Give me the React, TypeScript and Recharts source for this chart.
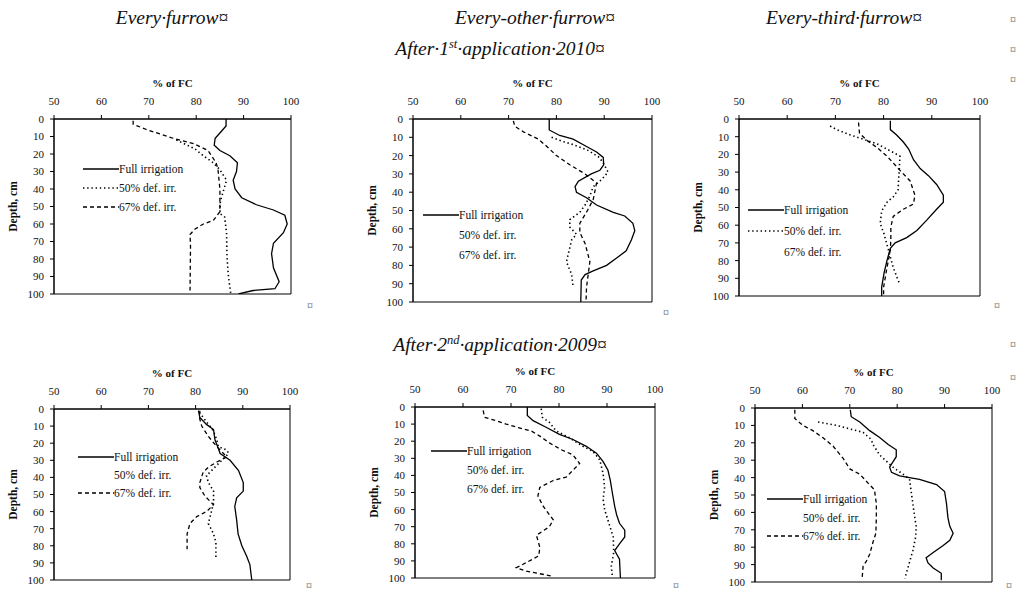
import React from "react";
import { LineChart, Line, XAxis, YAxis, ReferenceArea, Legend, Label } from "recharts";

const SERIF = "'Liberation Serif', serif";

const pctTicks = [50, 60, 70, 80, 90, 100];
const depthTicks = [0, 10, 20, 30, 40, 50, 60, 70, 80, 90, 100];
const seriesNames = ["Full irrigation", "50% def. irr.", "67% def. irr."];
const columnTitles = ["Every·furrow¤", "Every-other·furrow¤", "Every-third·furrow¤"];

// [depth cm, % of FC]
// After 1st application 2010
const p1Full: [number, number][] = [[0, 86.3], [4, 86.3], [8, 85], [11, 84], [15, 83.8], [18, 85], [21, 87.1], [25, 88.7], [30, 88.5], [35, 87.8], [40, 88.2], [45, 89.6], [49, 92.7], [52, 96.3], [55, 98.7], [60, 99.2], [65, 98.4], [71, 96.3], [77, 95.9], [85, 96.3], [93, 97.5], [97, 96.6], [98, 92], [100, 88.9]];
const p1Half: [number, number][] = [[12, 75.8], [17, 79.7], [21, 81.5], [25, 83.6], [29, 85], [35, 86.4], [47, 85.1], [54, 85], [56, 86], [65, 86.4], [79, 86.5], [90, 86.8], [100, 87.3]];
const p1Third: [number, number][] = [[1, 66.7], [3, 66.7], [6, 69.5], [11, 75.1], [14, 79.4], [18, 82.5], [25, 84.2], [29, 84.6], [40, 85], [53, 85], [58, 83.6], [60, 81.5], [63, 79.7], [66, 78.7], [73, 78.8], [98, 78.7]];

const p2Full: [number, number][] = [[0, 78.5], [6, 78.5], [9, 80.7], [11, 83.5], [15, 86.3], [18, 88.4], [21, 89.8], [25, 89.9], [28, 89.1], [30, 87.3], [34, 84.6], [37, 83.9], [40, 84.2], [43, 86.3], [47, 88.4], [51, 91.9], [53, 94.3], [57, 96], [61, 96.4], [66, 95.7], [72, 94.6], [76, 92.6], [80, 90.5], [83, 87.7], [85, 86], [88, 85.2], [100, 85.1]];
const p2Half: [number, number][] = [[10, 79], [12, 81], [14, 83.5], [17, 86.5], [21, 89], [25, 90], [29, 90.8], [33, 89.5], [37, 87.7], [42, 87], [47, 86], [51, 84.9], [55, 82.8], [59, 82.8], [63, 84.2], [66, 83.2], [78, 82.1], [85, 83.2], [92, 83.5]];
const p2Third: [number, number][] = [[1, 71], [4, 71.3], [7, 73.1], [11, 76.2], [15, 78], [20, 80], [25, 82.8], [30, 86], [35, 88.4], [44, 87.7], [50, 86.5], [57, 84.9], [62, 84.9], [68, 86], [74, 86.6], [78, 87], [86, 86.6], [92, 86.3], [100, 86.2]];

const p3Full: [number, number][] = [[1, 81.4], [6, 81.4], [9, 82.7], [13, 84.1], [17, 85.2], [23, 86.2], [28, 87.6], [32, 89.3], [37, 91], [43, 92.4], [47, 92.4], [51, 91], [57, 89], [63, 86.9], [67, 84.8], [70, 82.4], [73, 81.4], [80, 80.7], [87, 80.1], [95, 79.6], [100, 79.6]];
const p3Half: [number, number][] = [[4, 68.9], [6, 70.3], [9, 73.1], [14, 78.6], [17, 80.7], [21, 83.4], [40, 83], [44, 82], [47, 80.7], [52, 79.6], [59, 79.3], [65, 80.1], [71, 80.7], [84, 82], [93, 83.3]];
const p3Third: [number, number][] = [[2, 74.8], [8, 75], [12, 76.5], [16, 78.6], [21, 80.7], [29, 83.4], [35, 85.5], [43, 86.5], [48, 86.2], [51, 84.1], [55, 82], [61, 81.5], [68, 81.5], [74, 81.4], [84, 80.7], [95, 80], [100, 80]];

// After 2nd application 2009
const p4Full: [number, number][] = [[1, 80.6], [5, 80.9], [9, 82.3], [12, 83.8], [18, 84.1], [23, 84.8], [26, 85.2], [30, 87.3], [36, 89.1], [43, 90.1], [48, 90.1], [52, 88.7], [57, 88.3], [65, 88.7], [73, 89], [80, 89.8], [86, 90.8], [91, 91.5], [100, 91.9]];
const p4Half: [number, number][] = [[2, 80.8], [10, 83], [13, 83.8], [18, 84.5], [22, 84.8], [24, 86.6], [26, 87], [39, 82.3], [43, 82.7], [48, 83.8], [55, 83.8], [67, 82.7], [73, 83.8], [78, 84.3], [88, 84.3]];
const p4Third: [number, number][] = [[1, 80.9], [5, 80.8], [10, 81.3], [16, 82.7], [22, 84.5], [28, 86.6], [31, 84.5], [34, 82.7], [37, 81.6], [43, 80.9], [46, 80.9], [51, 82], [56, 83.8], [60, 82.3], [63, 80.2], [67, 78.8], [73, 78.2], [82, 78.2]];

const p5Full: [number, number][] = [[0, 73.4], [5, 73.4], [8, 74.6], [12, 77.4], [16, 80.1], [19, 82.9], [23, 85.7], [27, 87.8], [32, 89.2], [37, 90.2], [43, 90.7], [50, 91.1], [58, 91.6], [63, 92], [68, 92.6], [72, 93.7], [76, 93.7], [80, 92.6], [84, 91.6], [89, 92.6], [100, 92.8]];
const p5Half: [number, number][] = [[1, 76.3], [6, 76.5], [9, 78], [14, 79.4], [18, 82.2], [23, 85], [26, 87.1], [31, 88.5], [39, 89.2], [47, 89.5], [54, 89.2], [60, 89.5], [68, 90.4], [76, 91.3], [85, 91.4], [93, 90.9], [99, 91.1]];
const p5Third: [number, number][] = [[2, 64.2], [6, 64.5], [8, 66.9], [10, 69], [12, 71.5], [14, 74.2], [17, 76], [21, 78], [25, 80.5], [28, 82.9], [33, 84.3], [37, 82.9], [41, 81.5], [43, 78.8], [47, 76], [52, 75.6], [58, 76.7], [63, 78], [66, 78.8], [70, 78], [75, 75.3], [82, 76], [87, 75.8], [91, 73.2], [94, 71.1], [96, 73.2], [99, 78.8]];

const p6Full: [number, number][] = [[1, 70.1], [5, 70.3], [8, 72.1], [13, 74.2], [17, 76.3], [21, 78.1], [24, 79.8], [28, 79.8], [31, 79.1], [34, 78.4], [37, 78.8], [39, 80.5], [41, 84.7], [44, 88.3], [48, 90], [55, 90.4], [63, 90.7], [68, 91.1], [72, 91.8], [76, 91.1], [79, 89.7], [83, 87.6], [86, 86.1], [89, 86.5], [92, 87.6], [95, 89.3], [99, 89.3]];
const p6Half: [number, number][] = [[8, 63.3], [10, 67.2], [13, 71.4], [14, 72.8], [18, 74.5], [21, 74.9], [27, 76.3], [34, 79.1], [38, 81.2], [41, 82.6], [49, 83], [59, 83.5], [68, 84], [74, 83.9], [82, 83.3], [98, 81.6]];
const p6Third: [number, number][] = [[1, 58.4], [6, 58.4], [10, 60.1], [13, 62.2], [17, 64.3], [22, 66.5], [29, 68.6], [35, 70], [38, 72.1], [43, 73.8], [47, 75.2], [55, 75.6], [63, 75.6], [72, 75.5], [77, 74.9], [84, 74.2], [88, 73.5], [91, 72.8], [98, 72.6]];

type Pair = [number, number];
type Style = "solid" | "dotted" | "dashed" | null;

const STYLES = {
  solid: { dash: undefined, width: 1.3 },
  dotted: { dash: "1.4 2.8", width: 1.6 },
  dashed: { dash: "4 3", width: 1.3 },
};

const toRows = (pairs: Pair[]) => pairs.map(([depth, pct]) => ({ depth, pct }));

const XH = 46; // top axis band height
const YW = 50; // left axis band width
const MR = 14; // room right of the plot for the last tick label
const MB = 8;

const panels = [
  { left: 54, top: 119, w: 237, h: 175, series: [p1Full, p1Half, p1Third], lg: { x: 79, y: 86, gap: 19, samples: ["solid", "dotted", "dashed"] as Style[] }, mark: [311, 306] },
  { left: 413, top: 119, w: 239, h: 183, series: [p2Full, p2Half, p2Third], lg: { x: 60, y: 132, gap: 20, samples: ["solid", null, null] as Style[] }, mark: [667, 313] },
  { left: 739, top: 119, w: 241, h: 177, series: [p3Full, p3Half, p3Third], lg: { x: 59, y: 126, gap: 21, samples: ["solid", "dotted", null] as Style[] }, mark: [998, 306] },
  { left: 54, top: 409, w: 236, h: 171, series: [p4Full, p4Half, p4Third], lg: { x: 74, y: 85, gap: 18, samples: ["solid", null, "dashed"] as Style[] }, mark: [310, 586] },
  { left: 415, top: 407, w: 240, h: 171, series: [p5Full, p5Half, p5Third], lg: { x: 66, y: 80, gap: 19, samples: ["solid", null, null] as Style[] }, mark: [677, 586] },
  { left: 755, top: 408, w: 237, h: 174, series: [p6Full, p6Half, p6Third], lg: { x: 62, y: 128, gap: 18.5, samples: ["solid", null, "dashed"] as Style[] }, mark: [1010, 586] },
];

const lineStyles: Style[] = ["solid", "dotted", "dashed"];

function LegendBox({ gap, samples }: { gap: number; samples: Style[] }) {
  return (
    <div style={{ fontFamily: SERIF, fontSize: 11.5, color: "#111" }}>
      {seriesNames.map((name, i) => {
        const s = samples[i];
        return (
          <div key={name} style={{ display: "flex", alignItems: "center", height: gap, whiteSpace: "nowrap" }}>
            <svg width={36} height={6} style={{ display: "block" }}>
              {s && (
                <line x1={0} x2={36} y1={3} y2={3} stroke="#000" strokeWidth={STYLES[s].width} strokeDasharray={STYLES[s].dash} />
              )}
            </svg>
            <span>{name}</span>
          </div>
        );
      })}
    </div>
  );
}

function Panel({ p }: { p: (typeof panels)[number] }) {
  const tickStyle = { fontSize: 11, fill: "#111" };
  return (
    <div style={{ position: "absolute", left: p.left - YW, top: p.top - XH }}>
      <LineChart
        width={p.w + YW + MR}
        height={p.h + XH + MB}
        layout="vertical"
        margin={{ top: 0, right: MR, bottom: MB, left: 0 }}
      >
        <XAxis
          type="number"
          orientation="top"
          domain={[50, 100]}
          ticks={pctTicks}
          interval={0}
          allowDataOverflow
          height={XH}
          tickSize={4}
          tickMargin={10}
          tick={tickStyle}
          stroke="#000"
        >
          <Label value="% of FC" position="insideTop" offset={6} fontSize={11} fontWeight={700} fill="#111" />
        </XAxis>
        <YAxis
          type="number"
          dataKey="depth"
          domain={[0, 100]}
          ticks={depthTicks}
          interval={0}
          allowDataOverflow
          width={YW}
          tickSize={4}
          tickMargin={6}
          tick={tickStyle}
          stroke="#000"
        >
          <Label value="Depth, cm" angle={-90} position="insideLeft" offset={9} style={{ textAnchor: "middle" }} fontSize={11.5} fontWeight={700} fill="#111" />
        </YAxis>
        <ReferenceArea x1={50} x2={100} y1={0} y2={100} fill="none" stroke="#000" strokeWidth={1} />
        {p.series.map((pairs, i) => {
          const st = STYLES[lineStyles[i] as "solid"];
          return (
            <Line
              key={seriesNames[i]}
              data={toRows(pairs)}
              dataKey="pct"
              name={seriesNames[i]}
              type="linear"
              stroke="#000"
              strokeWidth={st.width}
              strokeDasharray={st.dash}
              dot={false}
              activeDot={false}
              isAnimationActive={false}
            />
          );
        })}
        <Legend
          layout="vertical"
          align="center"
          verticalAlign="middle"
          wrapperStyle={{ left: p.lg.x, top: p.lg.y, width: "auto", height: "auto" }}
          content={() => <LegendBox gap={p.lg.gap} samples={p.lg.samples} />}
        />
      </LineChart>
    </div>
  );
}

const heading: React.CSSProperties = {
  position: "absolute",
  fontFamily: SERIF,
  fontStyle: "italic",
  fontSize: 19.5,
  lineHeight: "20px",
  color: "#111",
  whiteSpace: "nowrap",
  transform: "translateX(-50%)",
};

const mark: React.CSSProperties = {
  position: "absolute",
  fontFamily: SERIF,
  fontSize: 12,
  lineHeight: "12px",
  color: "#666",
};

export default function App() {
  return (
    <div style={{ position: "absolute", left: 0, top: 0, width: 1022, height: 593, background: "#fff", overflow: "hidden" }}>
      <style>{`.recharts-wrapper text, .recharts-text { font-family: 'Liberation Serif', serif !important; }`}</style>
      <div style={{ ...heading, left: 172, top: 8 }}>{columnTitles[0]}</div>
      <div style={{ ...heading, left: 535, top: 8 }}>{columnTitles[1]}</div>
      <div style={{ ...heading, left: 844, top: 8 }}>{columnTitles[2]}</div>
      <div style={{ ...heading, left: 500, top: 39 }}>
        After·1<sup style={{ fontSize: 12.5, lineHeight: 0 }}>st</sup>·application·2010¤
      </div>
      <div style={{ ...heading, left: 500, top: 335 }}>
        After·2<sup style={{ fontSize: 12.5, lineHeight: 0 }}>nd</sup>·application·2009¤
      </div>
      {[20, 50, 80, 345, 378].map((y) => (
        <div key={y} style={{ ...mark, left: 1010, top: y - 6 }}>¤</div>
      ))}
      {panels.map((p, i) => (
        <React.Fragment key={i}>
          <Panel p={p} />
          <div style={{ ...mark, left: p.mark[0] - 4, top: p.mark[1] - 6 }}>¤</div>
        </React.Fragment>
      ))}
    </div>
  );
}
